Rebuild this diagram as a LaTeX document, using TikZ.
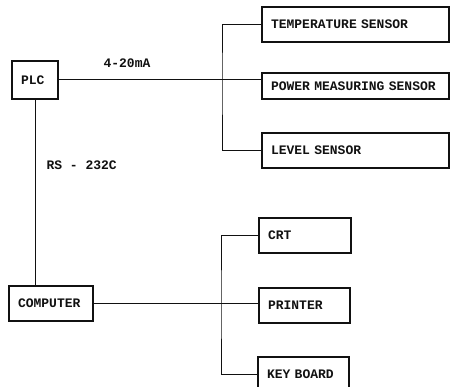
\documentclass[tikz,border=0pt]{standalone}
\usepackage{fontspec}
\newfontfamily\typer{Liberation Mono}
\usepackage{tikz}
\usetikzlibrary{positioning,calc}
\definecolor{inkBlack}{HTML}{111111}
\tikzset{
 unit/.style={draw=inkBlack, line width=1.1pt, inner xsep=9pt, align=left,
  font=\typer\bfseries\fontsize{13}{15}\selectfont, text=inkBlack},
 wire/.style={draw=inkBlack, line width=1pt},
 tag/.style={font=\typer\bfseries\fontsize{13}{15}\selectfont, text=inkBlack}
}
\newcommand{\devbox}[5]{%
 \node[unit, minimum width=#4pt, text width=#4pt-18pt, minimum height=#5pt] (#2) at (#1) {#3};}

\begin{document}
\begin{tikzpicture}[x=1pt,y=-1pt]
\useasboundingbox (0,0) rectangle (452,387);
% control side
\devbox{35,80}{plc}{PLC}{46}{38}
\devbox{51,303.5}{comp}{COMPUTER}{84}{35}
% field sensors
\devbox{355.5,24.5}{temp}{TEMPERATURE SENSOR}{187}{35}
\devbox{355.5,86}{power}{POWER MEASURING SENSOR}{187}{26}
\devbox{355.5,150.5}{level}{LEVEL SENSOR}{187}{35}
% peripherals
\devbox{305,235.5}{crt}{CRT}{92}{35}
\devbox{304.5,305.5}{prn}{PRINTER}{91}{35}
\devbox{303.5,374.5}{kbd}{KEY BOARD}{91}{35}
\coordinate (j1) at (222,80);
\coordinate (j2) at (221,304);
\draw[wire] (plc.east) -- (plc.east -| power.west);
\draw[wire] (temp.west) -| (j1) |- (level.west);
\draw[wire] (plc.south) -- (plc.south |- comp.north);
\draw[wire] (comp.east) -- (comp.east -| prn.west);
\draw[wire] (crt.west) -| (j2) |- (kbd.west);
\node[tag] (ma) at (127,63) {4-20mA};
\node[tag, anchor=west] (rs) at (43,165) {RS - 232C};
\end{tikzpicture}
\end{document}
